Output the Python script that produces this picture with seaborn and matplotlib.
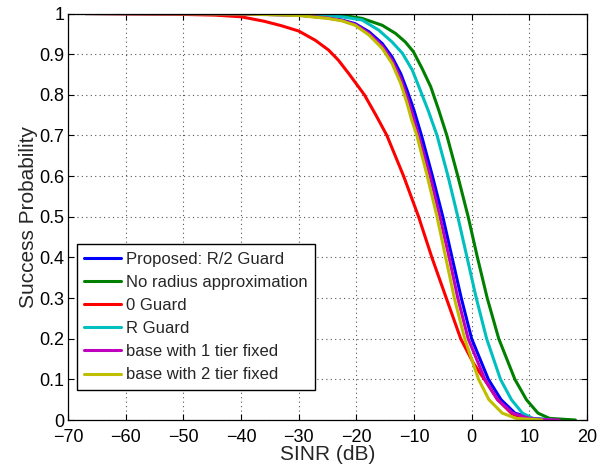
import matplotlib
matplotlib.use("Agg")
import matplotlib.pyplot as plt
import numpy as np
import pandas as pd
import seaborn as sns

# curves (SINR in dB, success probability)
labels = ['Proposed: R/2 Guard', 'No radius approximation', '0 Guard',
          'R Guard', 'base with 1 tier fixed', 'base with 2 tier fixed']

blue_x = [-67, -50, -40, -30, -25, -22.5, -20.2, -17.8, -15.5, -13.8, -12.3, -11.2, -10.0,
          -8.7, -6.8, -5.0, -3.4, -1.8, 0.0, 2.9, 5.1, 7.5, 10.5, 14]
blue_y = [1.0, 0.9995, 0.999, 0.996, 0.99, 0.984, 0.975, 0.955, 0.926, 0.893, 0.852, 0.811, 0.762,
          0.7, 0.6, 0.5, 0.4, 0.3, 0.2, 0.1, 0.05, 0.017, 0.004, 0.0]

green_x = [-67, -35, -30, -25, -22.5, -19, -15.5, -13.2, -11.5, -10.1, -8.6, -7.1, -5.7,
           -4.3, -2.4, -0.6, 1.0, 2.7, 4.7, 7.5, 9.5, 11.5, 13.5, 18]
green_y = [1.0, 0.9998, 0.999, 0.998, 0.996, 0.988, 0.971, 0.951, 0.93, 0.906, 0.865, 0.82, 0.762,
           0.7, 0.6, 0.5, 0.4, 0.3, 0.2, 0.1, 0.05, 0.017, 0.004, 0.0]

red_x = [-67, -50.6, -44.5, -40, -36, -33, -30, -27.1, -24.8, -23.1, -21.3, -18.6, -16.6,
         -14.7, -11.8, -9.2, -6.9, -4.4, -1.9, 0.3, 2.2, 4.5, 7, 10]
red_y = [1.0, 0.998, 0.996, 0.992, 0.981, 0.97, 0.957, 0.934, 0.91, 0.885, 0.852, 0.8, 0.75,
         0.7, 0.6, 0.5, 0.4, 0.3, 0.2, 0.14, 0.1, 0.05, 0.015, 0.0]

cyan_x = [-67, -35, -30, -25, -22.5, -19, -16.1, -13.8, -12.0, -10.3, -8.9, -7.5,
          -6.0, -4.1, -2.4, -0.8, 0.8, 2.6, 5.0, 6.9, 8.8, 10.6, 14]
cyan_y = [1.0, 0.9995, 0.998, 0.995, 0.992, 0.984, 0.959, 0.93, 0.902, 0.861, 0.811, 0.76,
          0.7, 0.6, 0.5, 0.4, 0.3, 0.2, 0.1, 0.05, 0.017, 0.004, 0.0]

magenta_x = [-67, -40, -30, -25, -22.5, -20.2, -17.8, -15.5, -13.8, -12.3, -11.2, -10.2,
             -9.2, -7.2, -5.5, -3.9, -2.4, -0.6, 2.3, 4.5, 7.1, 10, 12.5, 15.2]
magenta_y = [1.0, 0.999, 0.996, 0.989, 0.983, 0.973, 0.951, 0.92, 0.885, 0.84, 0.795, 0.75,
             0.7, 0.6, 0.5, 0.4, 0.3, 0.2, 0.1, 0.05, 0.017, 0.004, 0.0008, 0.0]

olive_x = [-67, -40, -30, -25, -22.5, -20.2, -17.8, -15.5, -13.8, -12.3, -11.2, -10.4,
           -9.5, -7.7, -6.0, -4.5, -3.0, -1.2, 1.2, 3.0, 5.3, 7.7, 12.2]
olive_y = [1.0, 0.999, 0.995, 0.988, 0.982, 0.971, 0.947, 0.914, 0.877, 0.828, 0.779, 0.738,
           0.7, 0.6, 0.5, 0.4, 0.3, 0.2, 0.1, 0.05, 0.017, 0.004, 0.0]

xs = [blue_x, green_x, red_x, cyan_x, magenta_x, olive_x]
ys = [blue_y, green_y, red_y, cyan_y, magenta_y, olive_y]
colors = ['#0000ff', '#008000', '#ff0000', '#00bfbf', '#bf00bf', '#bfbf00']

rows = []
for lab, x, y in zip(labels, xs, ys):
    for a, b in zip(x, y):
        rows.append((lab, a, b))
df = pd.DataFrame(rows, columns=['curve', 'sinr', 'p'])

sns.set_theme(style="white")
plt.rcParams['font.family'] = ['Liberation Sans', 'DejaVu Sans']
plt.rcParams['xtick.direction'] = 'in'
plt.rcParams['ytick.direction'] = 'in'

fig = plt.figure(figsize=(6.05, 4.66), dpi=100)
ax = fig.add_axes([0.1124, 0.0987, 0.8578, 0.8723])

sns.lineplot(data=df, x='sinr', y='p', hue='curve', hue_order=labels,
             palette=colors, estimator=None, sort=True, linewidth=2.2, ax=ax)
for ln in ax.get_lines():
    ln.set_solid_joinstyle('round')

ax.set_xlim(-70, 20)
ax.set_ylim(0, 1)
ax.set_xticks(np.arange(-70, 21, 10))
ax.set_yticks(np.arange(0, 1.01, 0.1))
ax.set_yticklabels(['0', '0.1', '0.2', '0.3', '0.4', '0.5', '0.6', '0.7', '0.8', '0.9', '1'])
ax.tick_params(labelsize=13, length=4, width=0.8, top=True, right=True,
               bottom=True, left=True, colors='black')
ax.tick_params(axis='x', pad=6.5)
ax.tick_params(axis='y', pad=2.5)
ax.grid(True, linestyle=(0, (1, 3)), color='#555555', linewidth=0.8)
for s in ax.spines.values():
    s.set_color('black')
    s.set_linewidth(0.9)

ax.set_xlabel('SINR (dB)', fontsize=15, labelpad=-1)
ax.set_ylabel('Success Probability', fontsize=15, labelpad=1)

leg = ax.legend(loc='lower left', bbox_to_anchor=(0.017, 0.074), fontsize=12,
                frameon=True, fancybox=False, edgecolor='black', framealpha=1,
                handlelength=2.2, handletextpad=0.3, borderpad=0.45, labelspacing=0.49,
                borderaxespad=0)
leg.get_frame().set_linewidth(1.0)

fig.savefig('out.png', dpi=100)
